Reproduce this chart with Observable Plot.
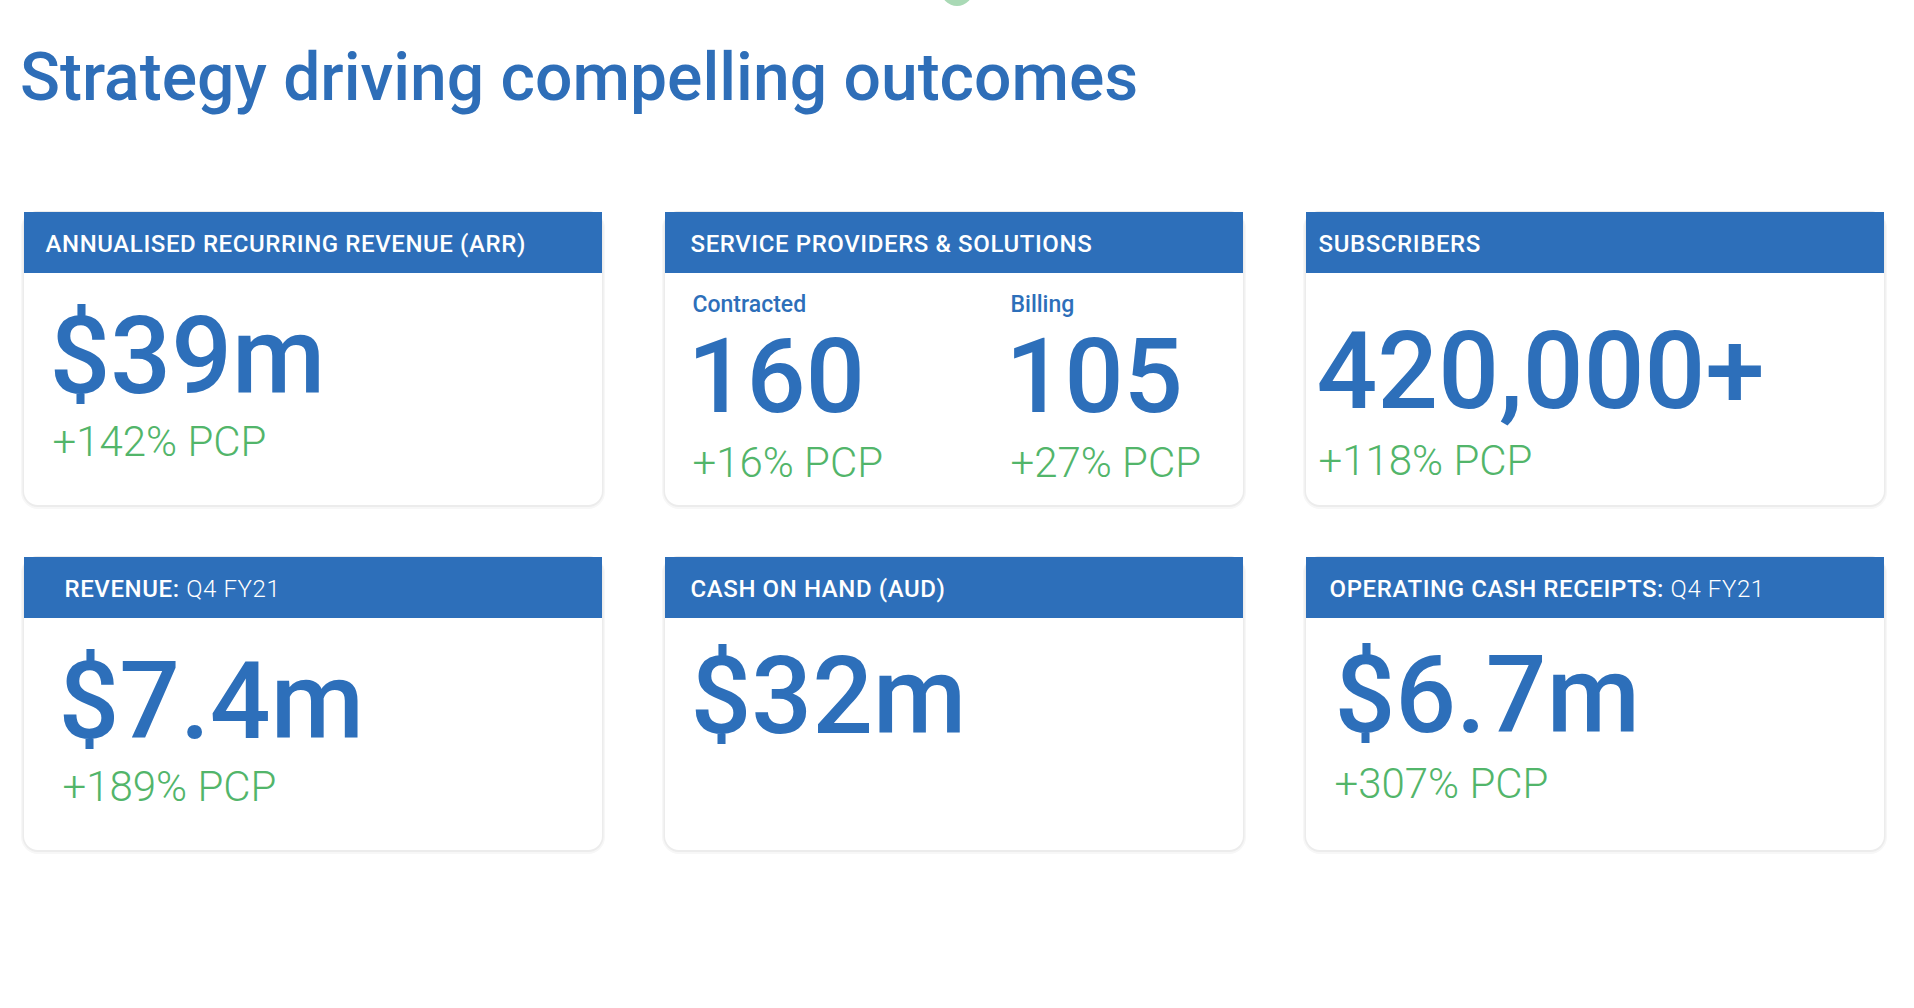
<!DOCTYPE html>
<html><head><meta charset="utf-8">
<script src="https://cdn.jsdelivr.net/npm/d3@7"></script>
<script src="https://cdn.jsdelivr.net/npm/@observablehq/plot@0.6"></script>
<style>
html,body{margin:0;padding:0;background:#fff;}
body{width:1914px;height:1008px;overflow:hidden;font-family:Roboto,"Liberation Sans",sans-serif;}
#head{position:relative;height:150px;}
#title{position:absolute;left:20px;top:45px;margin:0;font-size:66px;line-height:66px;font-weight:500;color:#2e6eb8;white-space:nowrap;letter-spacing:0;}
#dot{position:absolute;left:941px;top:-26px;width:32px;height:32px;border-radius:50%;background:#a9d9b5;}
#chart svg{display:block;}
</style></head><body>
<div id="head"><div id="dot"></div><h1 id="title">Strategy driving compelling outcomes</h1></div>
<div id="chart"></div>
<script>
// ---- data ----
const cardTitles = ["ANNUALISED RECURRING REVENUE (ARR)", "SERVICE PROVIDERS & SOLUTIONS", "SUBSCRIBERS", "REVENUE:", "CASH ON HAND (AUD)", "OPERATING CASH RECEIPTS:"];
const cardTitleNotes = ["", "", "", "Q4 FY21", "", "Q4 FY21"];
const cardColumns = [0, 1, 2, 0, 1, 2];
const cardRows = [0, 0, 0, 1, 1, 1];
const metricCards = [0, 1, 1, 2, 3, 4, 5];
const metricLabels = ["", "Contracted", "Billing", "", "", "", ""];
const metricValues = [39, 160, 105, 420000, 7.4, 32, 6.7];
const metricPrefixes = ["$", "", "", "", "$", "$", "$"];
const metricSuffixes = ["m", "", "", "+", "m", "m", "m"];
const metricChanges = [142, 16, 27, 118, 189, null, 307];
const changeSuffix = "% PCP";

// ---- layout & style (not data) ----
const W = 1914, H = 858;
const L = {
  left: 23, top: 62, cardW: 578, cardH: 293, gapX: 63.5, gapY: 52,
  headerH: 61, headerBase: 39, radius: 14,
  headerFont: 24, headerSpacing: 0.6,
  headerIndent: [21, 25, 12, 40, 25, 23],
  labelIndent:  [27, 27, 12, 38, 27, 28],
  valueIndent:  [25, 22, 10, 34, 25, 28],
  changeIndent: [28, 27, 12, 38, 27, 28],
  slotOffset: [0, 318],
  labelBase:  99,
  valueFont: 107, labelledValueFont: 104,
  valueBase:  [180, 199, 195, 180, 175, 174],
  changeBase: [243, 264, 262, 243, 240, 240]
};
const BLUE = "#2d6fba", GREEN = "#52b56a";
const FONT = "Roboto";

const ctx = document.createElement("canvas").getContext("2d");
function textWidth(s, font, spacing) { ctx.font = font; return ctx.measureText(s).width + s.length * spacing; }

const cards = cardTitles.map((t, i) => ({i, title: t, note: cardTitleNotes[i], col: cardColumns[i], row: cardRows[i]}));
const labelledCards = new Set(metricCards.filter((c, j) => metricLabels[j]));
const slotCount = {};
const metrics = metricCards.map((c, j) => {
  const slot = slotCount[c] = (slotCount[c] === undefined ? 0 : slotCount[c] + 1);
  const v = metricValues[j];
  return {
    card: c, col: cardColumns[c], row: cardRows[c], slot,
    labelled: labelledCards.has(c),
    label: metricLabels[j],
    valueText: metricPrefixes[j] + (v >= 1000 ? d3.format(",")(v) : String(v)) + metricSuffixes[j],
    changeText: metricChanges[j] == null ? "" : "+" + metricChanges[j] + changeSuffix
  };
});
const off = d => L.slotOffset[d.slot];

const fp = {fx: "col", fy: "row"};
const valueOpts = {...fp, x: d => L.valueIndent[d.card] + off(d), y: d => L.valueBase[d.card], text: "valueText",
  fill: BLUE, fontWeight: 500, textAnchor: "start", lineAnchor: "bottom"};
const chart = Plot.plot({
  width: W, height: H,
  marginLeft: L.left,
  marginRight: W - L.left - 3 * L.cardW - 2 * L.gapX,
  marginTop: L.top,
  marginBottom: H - L.top - 2 * L.cardH - L.gapY,
  x: {domain: [0, L.cardW], axis: null},
  y: {domain: [0, L.cardH], axis: null, reverse: true},
  fx: {domain: [0, 1, 2], axis: null, paddingInner: L.gapX / (L.cardW + L.gapX), paddingOuter: 0},
  fy: {domain: [0, 1], axis: null, paddingInner: L.gapY / (L.cardH + L.gapY), paddingOuter: 0},
  style: {fontFamily: FONT, background: "transparent", overflow: "visible"},
  marks: [
    Plot.rect(cards, {...fp, x1: -3, x2: L.cardW + 3, y1: -1, y2: L.cardH + 4, rx: L.radius + 3, fill: "#f7f7f7"}),
    Plot.rect(cards, {...fp, x1: -1.5, x2: L.cardW + 1.5, y1: -1, y2: L.cardH + 2, rx: L.radius + 1.5, fill: "#ececec"}),
    Plot.rect(cards, {...fp, x1: 0, x2: L.cardW, y1: 0, y2: L.cardH, rx: L.radius, fill: "white"}),
    Plot.rect(cards, {...fp, x1: 0, x2: L.cardW, y1: 0, y2: L.headerH, fill: BLUE}),
    Plot.text(cards, {...fp, x: d => L.headerIndent[d.i], y: L.headerBase, text: "title",
      fill: "white", fontSize: L.headerFont, fontWeight: 500, textAnchor: "start", lineAnchor: "bottom",
      ariaDescription: "card-header"}),
    Plot.text(cards.filter(d => d.note), {...fp,
      x: d => L.headerIndent[d.i] + textWidth(d.title + " ", `500 ${L.headerFont}px ${FONT}`, L.headerSpacing),
      y: L.headerBase, text: "note", fill: "white", fontSize: L.headerFont, fontWeight: 300, textAnchor: "start", lineAnchor: "bottom",
      ariaDescription: "card-header"}),
    Plot.text(metrics.filter(d => d.label), {...fp, x: d => L.labelIndent[d.card] + off(d), y: L.labelBase, text: "label",
      fill: BLUE, fontSize: 23, fontWeight: 500, textAnchor: "start", lineAnchor: "bottom"}),
    Plot.text(metrics.filter(d => !d.labelled), {...valueOpts, fontSize: L.valueFont}),
    Plot.text(metrics.filter(d => d.labelled), {...valueOpts, fontSize: L.labelledValueFont}),
    Plot.text(metrics.filter(d => d.changeText), {...fp, x: d => L.changeIndent[d.card] + off(d), y: d => L.changeBase[d.card], text: "changeText",
      fill: GREEN, fontSize: 42, fontWeight: 300, textAnchor: "start", lineAnchor: "bottom"})
  ]
});
chart.querySelectorAll('[aria-description="card-header"]').forEach(g => g.style.letterSpacing = L.headerSpacing + "px");
document.getElementById("chart").appendChild(chart);
</script>
</body></html>
